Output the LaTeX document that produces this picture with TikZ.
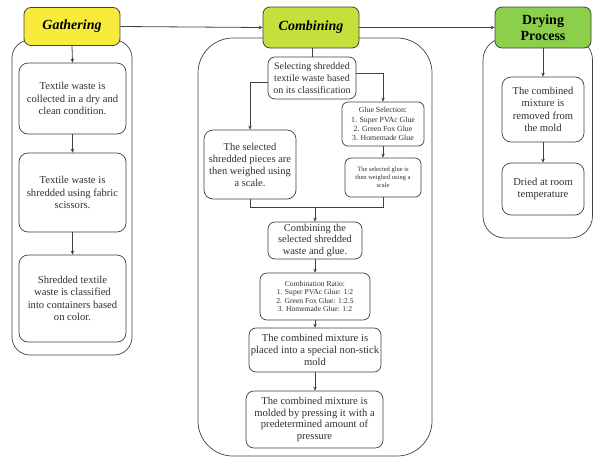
\documentclass[tikz,border=0pt]{standalone}
\usepackage{fontspec}
\setmainfont{Liberation Serif}
\usetikzlibrary{arrows.meta}
\definecolor{ln}{HTML}{404040}
\definecolor{tx}{HTML}{303030}
\definecolor{ygat}{HTML}{F8EB3B}
\definecolor{ycomb}{HTML}{C6DF3A}
\definecolor{gdry}{HTML}{8CCF4B}
\newcommand{\fs}[2]{\fontsize{#1}{#2}\selectfont}
\tikzset{
  cont/.style={draw=ln, line width=0.7pt},
  hdr/.style={draw=ln, line width=0.8pt, rounded corners=7pt, align=center, text=black, inner sep=1pt},
  bx/.style={draw=ln, fill=white, line width=0.7pt, rounded corners=9pt, align=center, text=tx, inner sep=1pt},
  arr/.style={draw=ln, line width=0.8pt, -{Stealth[length=4pt,width=3.5pt]}},
  ln/.style={draw=ln, line width=0.8pt}
}
\begin{document}
\begin{tikzpicture}[x=1pt,y=-1pt]
\useasboundingbox (0,0) rectangle (593,458);
% containers
\draw[cont, rounded corners=18pt] (12,40) rectangle (132,355);
\draw[cont, rounded corners=35pt] (198,38) rectangle (432,456);
\draw[cont, rounded corners=22pt] (483,38) rectangle (592.5,238);
% headers
\node[hdr, fill=ygat, minimum width=96pt, minimum height=38pt, font={\fs{14}{16}\bfseries\itshape}] (gh) at (72,26.5) {Gathering};
\node[hdr, fill=ycomb, minimum width=96pt, minimum height=41pt, font={\fs{14}{16}\bfseries\itshape}] (ch) at (311,27.5) {Combining};
\node[hdr, fill=gdry, minimum width=96pt, minimum height=41pt, font={\fs{14}{15.5}\bfseries}] (dh) at (543,27.5) {Drying\\Process};
% gathering boxes
\node[bx, minimum width=107pt, minimum height=71pt, font={\fs{10.6}{12.3}}] (g1) at (72.5,98.5) {Textile waste is\\collected in a dry and\\clean condition.};
\node[bx, minimum width=107pt, minimum height=79pt, font={\fs{10.6}{12.3}}] (g2) at (72.5,192.5) {Textile waste is\\shredded using fabric\\scissors.};
\node[bx, minimum width=107pt, minimum height=87pt, font={\fs{10.6}{12.3}}] (g3) at (72.5,298.5) {Shredded textile\\waste is classified\\into containers based\\on color.};
% combining boxes
\node[bx, minimum width=88pt, minimum height=42pt, rounded corners=7pt, font={\fs{10}{11.6}}] (sel) at (312,78) {Selecting shredded\\textile waste based\\on its classification};
\node[bx, minimum width=92pt, minimum height=69pt, font={\fs{10.5}{12}}] (wt) at (250,164.5) {The selected\\shredded pieces are\\then weighed using\\a scale.};
\node[bx, minimum width=82pt, minimum height=44pt, rounded corners=6pt, font={\fs{7.8}{9.3}}] (gl) at (383,124) {Glue Selection:\\1. Super PVAc Glue\\2. Green Fox Glue\\3. Homemade Glue};
\node[bx, minimum width=76pt, minimum height=39pt, rounded corners=6pt, font={\fs{6.5}{7.8}}] (gw) at (383,177.5) {The selected glue is\\then weighed using a\\scale};
\node[bx, minimum width=94pt, minimum height=37pt, rounded corners=7pt, font={\fs{10.4}{11.8}}] (cb) at (315,240.5) {Combining the\\selected shredded\\waste and glue.};
\node[bx, minimum width=110pt, minimum height=47pt, rounded corners=7pt, font={\fs{7.6}{8.6}}] (rt) at (315,296.5) {Combination Ratio:\\1. Super PVAc Glue: 1:2\\2. Green Fox Glue: 1:2.5\\3. Homemade Glue: 1:2};
\node[bx, minimum width=132pt, minimum height=44pt, rounded corners=7pt, font={\fs{10.6}{11.8}}] (pl) at (315,350) {The combined mixture is\\placed into a special non-stick\\mold};
\node[bx, minimum width=137pt, minimum height=57pt, rounded corners=8pt, font={\fs{10.6}{11.8}}] (md) at (314.5,419.5) {The combined mixture is\\molded by pressing it with a\\predetermined amount of\\pressure};
% drying boxes
\node[bx, minimum width=82pt, minimum height=65pt, font={\fs{10.6}{12.4}}] (d1) at (543,109.5) {The combined\\mixture is\\removed from\\the mold};
\node[bx, minimum width=82pt, minimum height=52pt, font={\fs{10.6}{12.4}}] (d2) at (543,189) {Dried at room\\temperature};
% connectors
\draw[arr] (gh.east) -- (ch.west);
\draw[arr] (ch.east) -- (dh.west);
\draw[arr] (gh.south) -- (g1.north);
\draw[arr] (g1.south) -- (g2.north);
\draw[arr] (g2.south) -- (g3.north);
\draw[ln] (ch.south -| sel.north) -- (sel.north);
\draw[arr] ([yshift=-4pt]sel.west) -| (wt.north);
\draw[arr] ([yshift=5pt]sel.east) -| (gl.north);
\draw[arr, line width=0.5pt] (gl.south) -- (gw.south |- gw.north);
\coordinate (jl) at (250,207);
\coordinate (jr) at (383,207);
\coordinate (jm) at (315,207);
\draw[ln] (wt.south) -- (jl) -- (jr) -- (gw.south);
\draw[arr] (jm) -- (cb.north);
\draw[arr] (cb.south) -- (rt.north);
\draw[arr] (rt.south) -- (pl.north);
\draw[arr] (pl.south) -- (pl.south |- md.north);
\draw[arr, line width=0.5pt] (dh.south) -- (d1.north);
\draw[arr, line width=0.5pt] (d1.south) -- (d2.north);
\end{tikzpicture}
\end{document}
